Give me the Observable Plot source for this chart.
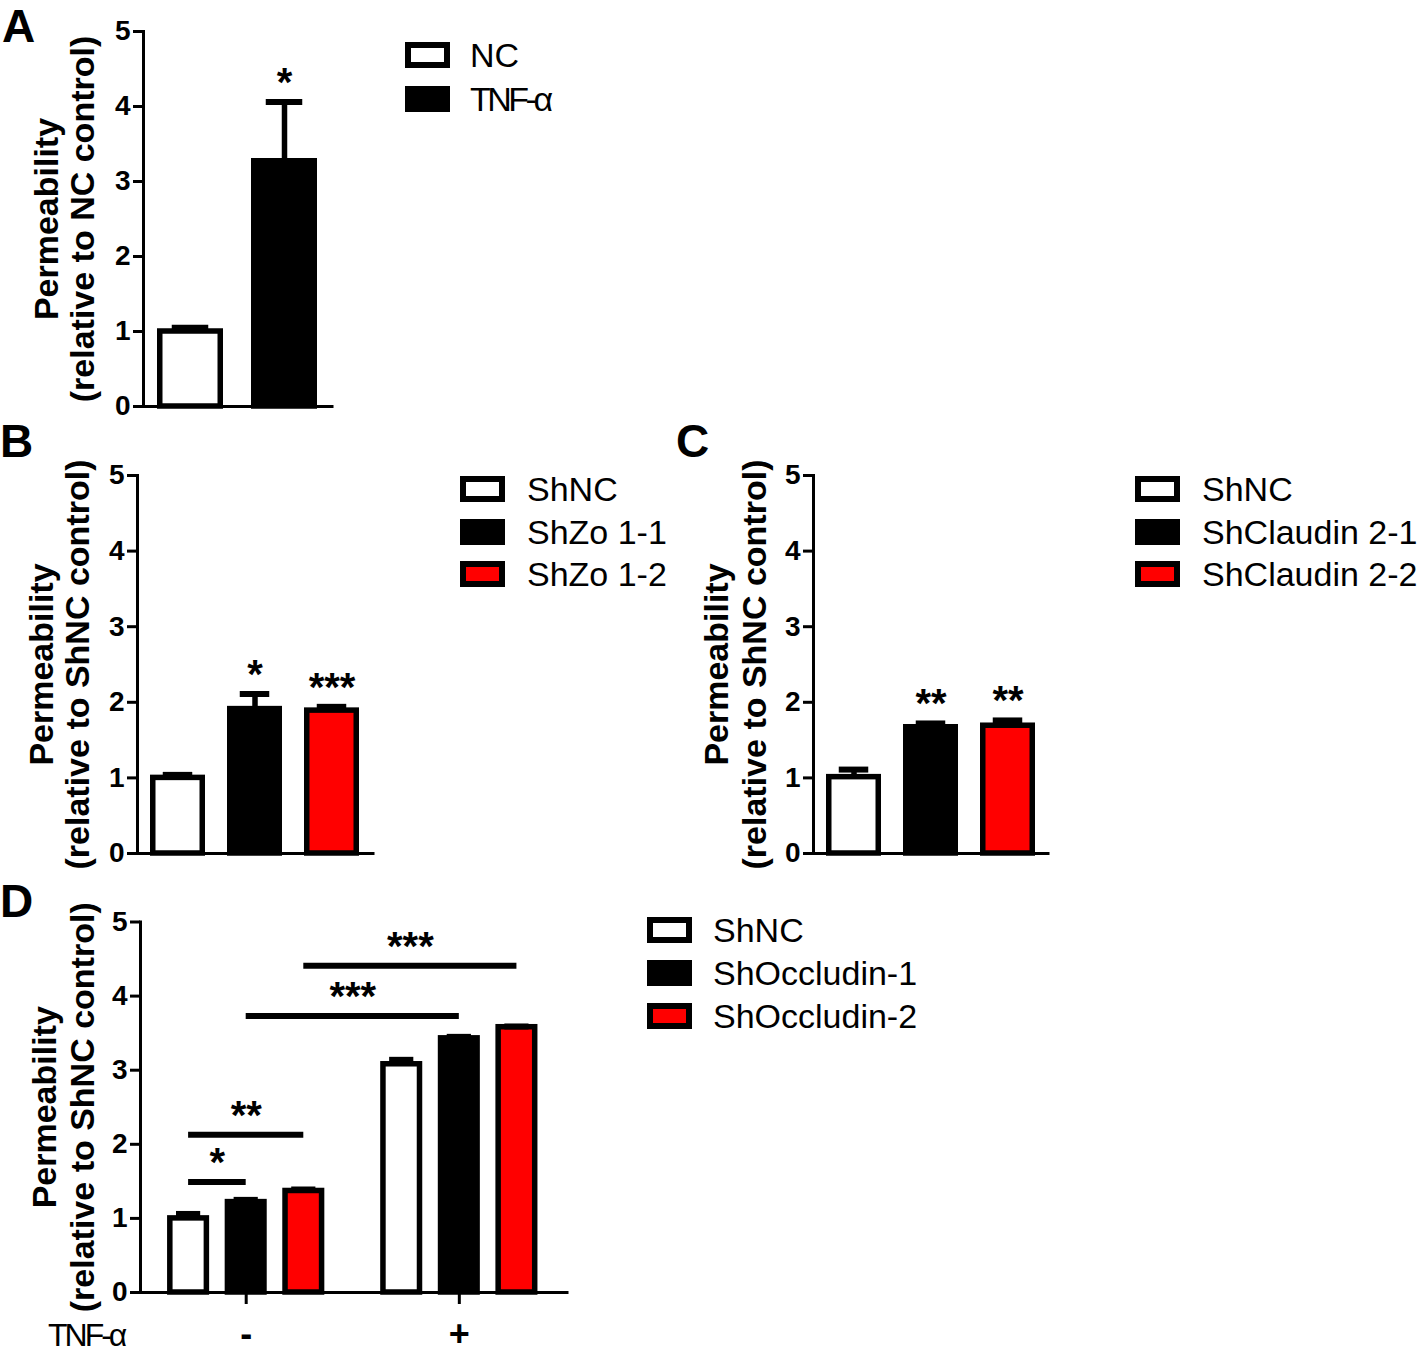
<!DOCTYPE html>
<html><head><meta charset="utf-8">
<script src="https://cdn.jsdelivr.net/npm/d3@7"></script>
<script src="https://cdn.jsdelivr.net/npm/@observablehq/plot@0.6"></script>
<style>
body{margin:0;background:#fff;}
#fig{position:relative;width:1418px;height:1353px;font-family:'Liberation Sans',Arial,Helvetica,sans-serif;color:#000;overflow:hidden;background:#fff;}
.abs{position:absolute;}
.letter{position:absolute;font-weight:bold;font-size:46px;line-height:0.8;}
.legend{position:absolute;font-size:34px;}
.legend .row{display:flex;align-items:center;line-height:1;white-space:nowrap;}
.legend .sw{box-sizing:border-box;width:45px;height:26px;border:6px solid #000;flex:none;}
.tight{letter-spacing:-3.5px;padding-right:4px;}
.tnf{position:absolute;font-size:32px;line-height:1;letter-spacing:-3px;padding-right:6px;}
</style></head><body><div id="fig"></div>
<script>
const FONT = "'Liberation Sans', Arial, Helvetica, sans-serif";

// ---------- data ----------
const yDomain = [0, 5];
const yTicks = [0, 1, 2, 3, 4, 5];

const namesA = ["NC", "TNF-α"];
const valuesA = [1.00, 3.27];
const errorsA = [0.05, 0.79];
const sigA = ["", "*"];
const colorsA = ["white", "black"];

const namesB = ["ShNC", "ShZo 1-1", "ShZo 1-2"];
const valuesB = [1.00, 1.91, 1.89];
const errorsB = [0.04, 0.20, 0.05];
const sigB = ["", "*", "***"];

const namesC = ["ShNC", "ShClaudin 2-1", "ShClaudin 2-2"];
const valuesC = [1.01, 1.67, 1.69];
const errorsC = [0.10, 0.05, 0.07];
const sigC = ["", "**", "**"];

const seriesColors = ["white", "black", "#ff0000"];

const tnfLevels = ["-", "+"];
const namesD = ["ShNC", "ShOccludin-1", "ShOccludin-2"];
const valuesDminus = [1.00, 1.22, 1.37];
const errorsDminus = [0.06, 0.03, 0.02];
const valuesDplus = [3.08, 3.43, 3.58];
const errorsDplus = [0.06, 0.02, 0.01];
const sigFromD = [["-", "ShNC"], ["-", "ShNC"], ["-", "ShOccludin-1"], ["-", "ShOccludin-2"]];
const sigToD = [["-", "ShOccludin-1"], ["-", "ShOccludin-2"], ["+", "ShOccludin-1"], ["+", "ShOccludin-2"]];
const sigYD = [1.49, 2.13, 3.73, 4.41];
const sigLabelD = ["*", "**", "***", "***"];

const titleTop = "Permeability";
const titleA = "(relative to NC control)";
const titleSh = "(relative to ShNC control)";

// ---------- styles ----------
const BAR_STROKE = 5.5;
const ERR_STEM = 5.5;
const ERR_CAP = 6;
const STAR_SIZE = 40;
const STAR_DY = -6;
const plotStyle = {fontFamily: FONT, background: "transparent", overflow: "visible", color: "black"};

const fig = document.getElementById("fig");
function place(node, left, top) {
  const d = document.createElement("div");
  d.className = "abs"; d.style.left = left + "px"; d.style.top = top + "px";
  d.appendChild(node); fig.appendChild(d);
}

function commonAxisMarks(title, dx1, dx2) {
  const tstyle = {frameAnchor: "left", textAnchor: "middle", rotate: -90, lineAnchor: "bottom",
                  fontSize: 34, fontWeight: "bold", fill: "black"};
  return [
    Plot.ruleY([0], {stroke: "black", strokeWidth: 3, strokeLinecap: "square"}),
    Plot.frame({anchor: "left", stroke: "black", strokeWidth: 3, strokeLinecap: "square"}),
    Plot.axisY({ticks: yTicks, tickFormat: d => String(d), tickSize: 10, tickPadding: 3, stroke: "black",
                strokeWidth: 3, fill: "black", fontSize: 28, fontWeight: "bold", label: null}),
    Plot.text([titleTop], {...tstyle, text: d => d, dx: dx1}),
    Plot.text([title], {...tstyle, text: d => d, dx: dx2})
  ];
}

function barPanel(names, values, errors, sig, colors, title, L) {
  const data = names.map((name, i) => ({name, value: values[i], err: errors[i], sig: sig[i]}));
  return Plot.plot({
    width: L.width, height: L.height,
    marginLeft: L.ml, marginRight: L.mr, marginTop: L.mt, marginBottom: L.mb,
    style: plotStyle,
    x: {domain: names, paddingInner: L.pi, paddingOuter: L.po, axis: null},
    y: {domain: yDomain},
    color: {domain: names, range: colors},
    marks: [
      Plot.ruleX(data, {x: "name", y1: "value", y2: d => d.value + d.err, stroke: "black", strokeWidth: ERR_STEM}),
      Plot.barY(data, {x: "name", y: "value", fill: "name", stroke: "black", strokeWidth: BAR_STROKE,
                       insetLeft: BAR_STROKE / 2, insetRight: BAR_STROKE / 2}),
      Plot.tickY(data, {x: "name", y: d => d.value + d.err, stroke: "black", strokeWidth: ERR_CAP,
                        insetLeft: L.capInset, insetRight: L.capInset}),
      Plot.text(data, {x: "name", y: d => d.value + d.err, text: "sig", fontSize: STAR_SIZE, fontWeight: "bold",
                       lineAnchor: "bottom", dy: STAR_DY, fill: "black"}),
      ...commonAxisMarks(title, L.dx1, L.dx2)
    ]
  });
}

// Panel D (grouped by TNF-α)
const GROUP_GAP = 3.7, BAR_HALF = 0.365, CAP_HALF = 0.21, PAD_L = 0.835, PAD_R = 0.878;
function panelD() {
  const rows = [];
  tnfLevels.forEach((t, ti) => {
    const vals = ti === 0 ? valuesDminus : valuesDplus;
    const errs = ti === 0 ? errorsDminus : errorsDplus;
    namesD.forEach((g, gi) => rows.push({tnf: t, group: g, pos: ti * GROUP_GAP + gi, value: vals[gi], err: errs[gi]}));
  });
  const posOf = ([t, g]) => tnfLevels.indexOf(t) * GROUP_GAP + namesD.indexOf(g);
  const sig = sigYD.map((y, i) => ({y, label: sigLabelD[i], x1: posOf(sigFromD[i]), x2: posOf(sigToD[i])}));
  const centers = tnfLevels.map((t, i) => i * GROUP_GAP + (namesD.length - 1) / 2);
  return Plot.plot({
    width: 580, height: 473,
    marginLeft: 140, marginRight: 13, marginTop: 41.5, marginBottom: 61,
    style: plotStyle,
    x: {type: "linear", domain: [-PAD_L, (tnfLevels.length - 1) * GROUP_GAP + namesD.length - 1 + PAD_R]},
    y: {domain: yDomain},
    color: {domain: namesD, range: seriesColors},
    marks: [
      Plot.ruleX(rows, {x: "pos", y1: "value", y2: d => d.value + d.err, stroke: "black", strokeWidth: ERR_STEM}),
      Plot.rect(rows, {x1: d => d.pos - BAR_HALF, x2: d => d.pos + BAR_HALF, y1: d => 0, y2: "value",
                       fill: "group", stroke: "black", strokeWidth: BAR_STROKE,
                       insetLeft: BAR_STROKE / 2, insetRight: BAR_STROKE / 2}),
      Plot.ruleY(rows, {y: d => d.value + d.err, x1: d => d.pos - CAP_HALF, x2: d => d.pos + CAP_HALF,
                        stroke: "black", strokeWidth: ERR_CAP}),
      Plot.ruleY(sig, {y: "y", x1: "x1", x2: "x2", stroke: "black", strokeWidth: 6}),
      Plot.text(sig, {x: d => (d.x1 + d.x2) / 2, y: "y", text: "label", fontSize: STAR_SIZE, fontWeight: "bold",
                      lineAnchor: "bottom", dy: STAR_DY, fill: "black"}),
      Plot.axisX({ticks: centers, tickFormat: d => tnfLevels[Math.round((d - 1) / GROUP_GAP)],
                  tickSize: 12, tickPadding: 16, stroke: "black", strokeWidth: 3, fill: "black",
                  fontSize: 36, fontWeight: "bold", label: null}),
      ...commonAxisMarks(titleSh, -85, -47)
    ]
  });
}

place(barPanel(namesA, valuesA, errorsA, sigA, colorsA, titleA,
  {width: 340, height: 420, ml: 143, mr: 8, mt: 31, mb: 14, pi: 0.296, po: 0.148, capInset: 14.75, dx1: -85.5, dx2: -50}), 0, 0);
place(barPanel(namesB, valuesB, errorsB, sigB, seriesColors, titleSh,
  {width: 380, height: 430, ml: 137, mr: 7, mt: 35, mb: 17, pi: 0.284, po: 0.164, capInset: 12.75, dx1: -84.5, dx2: -49}), 0, 440);
place(barPanel(namesC, valuesC, errorsC, sigC, seriesColors, titleSh,
  {width: 380, height: 430, ml: 133, mr: 12, mt: 35, mb: 17, pi: 0.28, po: 0.15, capInset: 12.75, dx1: -85.5, dx2: -48}), 680, 440);
place(panelD(), 0, 880);

// ---------- legends ----------
function legend(names, colors, L) {
  const div = document.createElement("div");
  div.className = "legend"; div.style.left = L.left + "px"; div.style.top = L.top + "px";
  names.forEach((n, i) => {
    const row = document.createElement("div"); row.className = "row"; row.style.height = L.step + "px";
    const sw = document.createElement("span"); sw.className = "sw"; sw.style.background = colors[i];
    sw.style.marginRight = L.gap + "px";
    const tx = document.createElement("span"); tx.textContent = n;
    if (n.startsWith("TNF")) tx.className = "tight";
    row.appendChild(sw); row.appendChild(tx); div.appendChild(row);
  });
  fig.appendChild(div);
}
legend(namesA, colorsA, {left: 405, top: 33, step: 44, gap: 20});
legend(namesB, seriesColors, {left: 460, top: 468, step: 42.5, gap: 22});
legend(namesC, seriesColors, {left: 1135, top: 468, step: 42.5, gap: 22});
legend(namesD, seriesColors, {left: 647, top: 908.5, step: 43, gap: 21});

// ---------- panel letters & TNF label ----------
[["A", 2, 7.9], ["B", 0, 422.7], ["C", 676, 422.7], ["D", 0, 882.7]].forEach(([t, x, y]) => {
  const s = document.createElement("div"); s.className = "letter"; s.textContent = t;
  s.style.left = x + "px"; s.style.top = y + "px"; fig.appendChild(s);
});
const tnf = document.createElement("div"); tnf.className = "tnf"; tnf.textContent = "TNF-α";
tnf.style.left = "48px"; tnf.style.top = "1318.5px"; fig.appendChild(tnf);
</script></body></html>
